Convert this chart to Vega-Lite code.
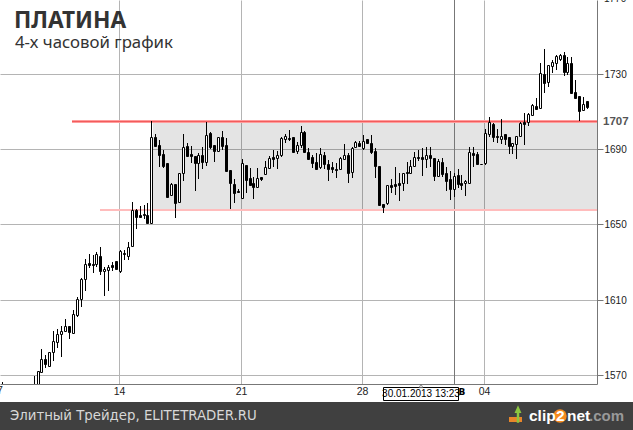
{"$schema":"https://vega.github.io/schema/vega-lite/v6.json","width":597,"height":384,"autosize":"none","padding":{"left":0,"top":0,"right":36,"bottom":46},"background":"white","view":{"stroke":null},
"datasets":{"candles":[
{"i":-30,"o":1563,"h":1566.1,"l":1560,"c":1562},{"i":-22,"o":1563,"h":1569.6,"l":1560,"c":1564},{"i":-21,"o":1560,"h":1572.3,"l":1558,"c":1572.3},{"i":-20,"o":1571.4,"h":1583.8,"l":1571.4,"c":1578.3},{"i":-19,"o":1578.3,"h":1580.6,"l":1573.5,"c":1575.8},{"i":-18,"o":1575,"h":1582.4,"l":1575,"c":1582.4},{"i":-17,"o":1582,"h":1593.4,"l":1577.4,"c":1587.9},{"i":-16,"o":1587.7,"h":1594.3,"l":1584.5,"c":1591.6},{"i":-15,"o":1591.6,"h":1596,"l":1579.7,"c":1593.6},{"i":-14,"o":1593.4,"h":1599.8,"l":1593.4,"c":1596.2},{"i":-13,"o":1596.2,"h":1596.2,"l":1589.3,"c":1593},{"i":-12,"o":1592.5,"h":1604.5,"l":1592.1,"c":1602.2},{"i":-11,"o":1602,"h":1611.3,"l":1601,"c":1610.2},{"i":-10,"o":1610.5,"h":1621.3,"l":1606.3,"c":1620.8},{"i":-9,"o":1620.8,"h":1631.4,"l":1614.8,"c":1628.8},{"i":-8,"o":1629.3,"h":1634.1,"l":1627,"c":1628.6},{"i":-7,"o":1628.8,"h":1633.7,"l":1624.4,"c":1628.3},{"i":-6,"o":1628.8,"h":1635.2,"l":1627.6,"c":1634.1},{"i":-5,"o":1633.2,"h":1637.8,"l":1623.3,"c":1625.4},{"i":-4,"o":1625.1,"h":1627.6,"l":1612.1,"c":1626.1},{"i":-3,"o":1625.6,"h":1628.3,"l":1614.8,"c":1627.2},{"i":-2,"o":1628.3,"h":1630.2,"l":1625.4,"c":1627.6},{"i":-1,"o":1630.6,"h":1630.6,"l":1626.5,"c":1626.5},{"i":0,"o":1625.4,"h":1636.4,"l":1624.4,"c":1635.9},{"i":1,"o":1634.6,"h":1636.4,"l":1631.3,"c":1634.1},{"i":2,"o":1633.4,"h":1640.5,"l":1631.3,"c":1638.2},{"i":3,"o":1638.4,"h":1661.7,"l":1638.4,"c":1657.5},{"i":4,"o":1657.5,"h":1658,"l":1647.7,"c":1654.1},{"i":5,"o":1655.2,"h":1659.8,"l":1653.8,"c":1654.1},{"i":6,"o":1655.5,"h":1660.3,"l":1652.7,"c":1654.8},{"i":7,"o":1655.2,"h":1661.5,"l":1650.9,"c":1650.9},{"i":8,"o":1650.6,"h":1704.9,"l":1650.6,"c":1696.3},{"i":9,"o":1696.6,"h":1698,"l":1691.8,"c":1691.8},{"i":10,"o":1692.2,"h":1694.8,"l":1680.3,"c":1686.9},{"i":11,"o":1687.4,"h":1689.5,"l":1680.1,"c":1681},{"i":12,"o":1682.4,"h":1682.4,"l":1664.4,"c":1664.7},{"i":13,"o":1665.6,"h":1672.2,"l":1665.1,"c":1671.5},{"i":14,"o":1671.5,"h":1671.5,"l":1653.2,"c":1661.2},{"i":15,"o":1661.9,"h":1677.1,"l":1661.5,"c":1677.1},{"i":16,"o":1677.1,"h":1698,"l":1672.9,"c":1690.9},{"i":17,"o":1691.6,"h":1693.1,"l":1686,"c":1686.5},{"i":18,"o":1687.2,"h":1691.6,"l":1682.4,"c":1686.5},{"i":19,"o":1686.3,"h":1686.3,"l":1667.7,"c":1682.8},{"i":20,"o":1682.8,"h":1688.1,"l":1673.9,"c":1686.7},{"i":21,"o":1686.9,"h":1690.9,"l":1679.4,"c":1683},{"i":22,"o":1683.3,"h":1704.6,"l":1681.2,"c":1697.3},{"i":23,"o":1698.4,"h":1699.3,"l":1689.9,"c":1691.3},{"i":24,"o":1692.2,"h":1692.2,"l":1683.3,"c":1689.2},{"i":25,"o":1689,"h":1696.6,"l":1688.6,"c":1696.6},{"i":26,"o":1696.6,"h":1699.8,"l":1689.5,"c":1691.8},{"i":27,"o":1692.4,"h":1695.7,"l":1678,"c":1678.4},{"i":28,"o":1678.9,"h":1678.9,"l":1658,"c":1671.8},{"i":29,"o":1671.5,"h":1673.9,"l":1661.5,"c":1666.9},{"i":30,"o":1667.7,"h":1668.6,"l":1666.9,"c":1667},{"i":31,"o":1663.9,"h":1684.6,"l":1663.9,"c":1682.8},{"i":32,"o":1681.6,"h":1681.6,"l":1666.9,"c":1673.6},{"i":33,"o":1674.5,"h":1679.8,"l":1670.8,"c":1671.1},{"i":34,"o":1671.8,"h":1675.4,"l":1663.7,"c":1670},{"i":35,"o":1669.7,"h":1679.8,"l":1669.7,"c":1674.5},{"i":36,"o":1675,"h":1675,"l":1673.2,"c":1674.1},{"i":37,"o":1676.6,"h":1683.9,"l":1676.6,"c":1680.3},{"i":38,"o":1679.8,"h":1686.3,"l":1679.3,"c":1685.4},{"i":39,"o":1685.6,"h":1689.5,"l":1680.7,"c":1684.9},{"i":40,"o":1685.4,"h":1689.2,"l":1679.3,"c":1686.9},{"i":41,"o":1686.7,"h":1696.3,"l":1686,"c":1695.7},{"i":42,"o":1695.5,"h":1697.8,"l":1693.1,"c":1697},{"i":43,"o":1695.7,"h":1700.1,"l":1694.5,"c":1695.2},{"i":44,"o":1696.3,"h":1696.3,"l":1688.1,"c":1688.6},{"i":45,"o":1689.2,"h":1694,"l":1687.4,"c":1692.2},{"i":46,"o":1692.2,"h":1702.3,"l":1690.4,"c":1698.9},{"i":47,"o":1699.1,"h":1699.8,"l":1688.1,"c":1688.6},{"i":48,"o":1688.6,"h":1690.4,"l":1684.2,"c":1684.6},{"i":49,"o":1686,"h":1686.9,"l":1679.8,"c":1682.4},{"i":50,"o":1683,"h":1687.7,"l":1679.4,"c":1679.4},{"i":51,"o":1680.7,"h":1690.4,"l":1679.3,"c":1687.2},{"i":52,"o":1686.7,"h":1688.6,"l":1679.4,"c":1681.9},{"i":53,"o":1682.1,"h":1684.2,"l":1673.2,"c":1679.6},{"i":54,"o":1680.3,"h":1683.3,"l":1677.5,"c":1679.6},{"i":55,"o":1679.4,"h":1682.4,"l":1674.5,"c":1679.1},{"i":56,"o":1679.4,"h":1686,"l":1679.3,"c":1685.1},{"i":57,"o":1684.9,"h":1692.7,"l":1684.9,"c":1686.7},{"i":58,"o":1686.7,"h":1687.7,"l":1672.2,"c":1677.5},{"i":59,"o":1677.7,"h":1690.9,"l":1674.5,"c":1690.4},{"i":60,"o":1691.3,"h":1694.5,"l":1690.4,"c":1693.6},{"i":61,"o":1693.4,"h":1694.5,"l":1691.6,"c":1691.8},{"i":62,"o":1690.4,"h":1697.5,"l":1689.5,"c":1694.5},{"i":63,"o":1695.2,"h":1695.2,"l":1693.1,"c":1693.4},{"i":64,"o":1693.1,"h":1697.5,"l":1687.4,"c":1688.6},{"i":65,"o":1689,"h":1690.4,"l":1674.5,"c":1681},{"i":66,"o":1681,"h":1681,"l":1659.8,"c":1660.3},{"i":67,"o":1660.7,"h":1660.7,"l":1656.2,"c":1659.4},{"i":68,"o":1661.5,"h":1670.9,"l":1660.3,"c":1670.9},{"i":69,"o":1670.9,"h":1673.9,"l":1666.9,"c":1670},{"i":70,"o":1671.5,"h":1680.7,"l":1665.6,"c":1670.4},{"i":71,"o":1671.8,"h":1677.1,"l":1662.6,"c":1671.1},{"i":72,"o":1671.8,"h":1677.1,"l":1667.7,"c":1677.1},{"i":73,"o":1677.8,"h":1683.3,"l":1671.5,"c":1677.1},{"i":74,"o":1677.1,"h":1684.2,"l":1676.8,"c":1681},{"i":75,"o":1681,"h":1688.6,"l":1680.7,"c":1685.6},{"i":76,"o":1685.6,"h":1689.5,"l":1683.9,"c":1685.1},{"i":77,"o":1685.6,"h":1690.4,"l":1675.7,"c":1684.9},{"i":78,"o":1684.6,"h":1690.9,"l":1679.8,"c":1686.9},{"i":79,"o":1686.7,"h":1690.9,"l":1680.3,"c":1685.4},{"i":80,"o":1685.1,"h":1685.1,"l":1673.1,"c":1675.7},{"i":81,"o":1675.7,"h":1684.6,"l":1675.4,"c":1683.9},{"i":82,"o":1683.3,"h":1685.1,"l":1675.4,"c":1676.8},{"i":83,"o":1677.1,"h":1680.3,"l":1667.9,"c":1673.2},{"i":84,"o":1674.1,"h":1678.4,"l":1663,"c":1669},{"i":85,"o":1669,"h":1677.5,"l":1664.7,"c":1675.5},{"i":86,"o":1676.4,"h":1679.3,"l":1669.2,"c":1671.5},{"i":87,"o":1671.8,"h":1676.1,"l":1668.3,"c":1671.1},{"i":88,"o":1671.8,"h":1673.6,"l":1665.3,"c":1672.9},{"i":89,"o":1672.2,"h":1691.3,"l":1671.8,"c":1688.3},{"i":90,"o":1687.7,"h":1691.3,"l":1680.3,"c":1686.7},{"i":91,"o":1687.2,"h":1688.3,"l":1681.6,"c":1681.9},{"i":92,"o":1682.3,"h":1682.3,"l":1681.9,"c":1681.9},{"i":93,"o":1682.4,"h":1700.5,"l":1681.6,"c":1698.4},{"i":94,"o":1698,"h":1706.9,"l":1696.6,"c":1704.2},{"i":95,"o":1703.2,"h":1703.7,"l":1693.9,"c":1696.6},{"i":96,"o":1697,"h":1700.5,"l":1693.1,"c":1696.2},{"i":97,"o":1695.5,"h":1705.8,"l":1692.7,"c":1697.1},{"i":98,"o":1697.8,"h":1697.8,"l":1692.2,"c":1695.5},{"i":99,"o":1696.2,"h":1696.2,"l":1687.4,"c":1691.8},{"i":100,"o":1691.8,"h":1693.1,"l":1687.4,"c":1693.1},{"i":101,"o":1692.7,"h":1697,"l":1684.6,"c":1697},{"i":102,"o":1697.1,"h":1704.6,"l":1697,"c":1703.7},{"i":103,"o":1704.2,"h":1709,"l":1692.2,"c":1703.5},{"i":104,"o":1704.6,"h":1709,"l":1702.3,"c":1708.5},{"i":105,"o":1708.3,"h":1714,"l":1707.9,"c":1713.2},{"i":106,"o":1712.7,"h":1717,"l":1711.5,"c":1711.5},{"i":107,"o":1711.7,"h":1735.9,"l":1711.3,"c":1730.2},{"i":108,"o":1729.9,"h":1743,"l":1720,"c":1724.9},{"i":109,"o":1725.8,"h":1734.5,"l":1722.8,"c":1734.5},{"i":110,"o":1734.1,"h":1737.3,"l":1730.2,"c":1736.3},{"i":111,"o":1735.9,"h":1739.8,"l":1732,"c":1739.5},{"i":112,"o":1738,"h":1740.5,"l":1737,"c":1739.8},{"i":113,"o":1740,"h":1741.8,"l":1728.8,"c":1731.1},{"i":114,"o":1730.8,"h":1739.1,"l":1729.4,"c":1735.6},{"i":115,"o":1735.6,"h":1738.7,"l":1719.6,"c":1719.6},{"i":116,"o":1720.2,"h":1726.7,"l":1716.4,"c":1717.1},{"i":117,"o":1718.2,"h":1718.2,"l":1705.1,"c":1710.4},{"i":118,"o":1710.8,"h":1717.9,"l":1710.4,"c":1713.8},{"i":119,"o":1715.5,"h":1715.5,"l":1711.1,"c":1712.2}
]},
"layer":[
{"data":{"values":[{"a":8.3,"b":121.53,"top":1704.7,"bottom":1657.6}]},"mark":{"type":"rect","fill":"#000","opacity":0.105},
"encoding":{
"x":{"field":"a","type":"quantitative","title":null,"scale":{"domain":[-30.573,121.53],"padding":0,"nice":false,"zero":false,"round":true},"axis":{"orient":"bottom","values":[-0.25,30.75,61.75,92.75],"labelExpr":"datum.value<1?'14':datum.value<31?'21':datum.value<62?'28':'04'","grid":true,"gridColor":"#b4b4b4","ticks":false,"domainColor":"#777","labelFont":"Liberation Sans","labelFontSize":10.5,"labelColor":"#222","labelPadding":2,"labelBound":false,"labelFlush":false,"labelOverlap":false,"title":null}},
"x2":{"field":"b"},
"y":{"field":"top","type":"quantitative","title":null,"scale":{"domain":[1565.2,1769.2],"nice":false,"zero":false,"round":true},"axis":{"orient":"right","values":[1570,1610,1650,1690,1730],"format":"d","grid":true,"gridColor":"#b4b4b4","tickColor":"#777","tickSize":6,"domainColor":"#777","labelFont":"Liberation Sans","labelFontSize":10,"labelColor":"#222","labelPadding":1,"labelBound":false,"labelFlush":false,"labelOverlap":false,"title":null}},
"y2":{"field":"bottom"}}},
{"data":{"values":[{"i":85.1,"a":1565.2,"b":1769.2}]},"mark":{"type":"rule","color":"#777","strokeWidth":1,"xOffset":0.5},"encoding":{"x":{"field":"i","type":"quantitative"},"y":{"field":"a","type":"quantitative"},"y2":{"field":"b"}}},
{"data":{"values":[{"a":-12.2,"b":121.53,"p":1704.7}]},"mark":{"type":"rule","color":"#ff9c9c","strokeWidth":3,"yOffset":0.5},"encoding":{"x":{"field":"a","type":"quantitative"},"x2":{"field":"b"},"y":{"field":"p","type":"quantitative"}}},
{"data":{"values":[{"a":-12.2,"b":121.53,"p":1704.7}]},"mark":{"type":"rule","color":"#f25c5c","strokeWidth":1,"yOffset":0.5},"encoding":{"x":{"field":"a","type":"quantitative"},"x2":{"field":"b"},"y":{"field":"p","type":"quantitative"}}},
{"data":{"values":[{"a":-5.1,"b":121.53,"p":1657.6}]},"mark":{"type":"rule","color":"#ffbcbc","strokeWidth":2},"encoding":{"x":{"field":"a","type":"quantitative"},"x2":{"field":"b"},"y":{"field":"p","type":"quantitative"}}},
{"data":{"name":"candles"},"mark":{"type":"rule","color":"#000","strokeWidth":1,"clip":true,"xOffset":0.5},"encoding":{"x":{"field":"i","type":"quantitative"},"y":{"field":"l","type":"quantitative"},"y2":{"field":"h"}}},
{"data":{"name":"candles"},"mark":{"type":"bar","orient":"vertical","size":2,"stroke":"#000","strokeWidth":1,"clip":true,"xOffset":0.5,"yOffset":0.5,"y2Offset":0.5},"encoding":{"x":{"field":"i","type":"quantitative"},"y":{"field":"o","type":"quantitative"},"y2":{"field":"c"},"fill":{"condition":{"test":"datum.c>=datum.o","value":"#ffffff"},"value":"#000000"}}},
{"data":{"values":[{"a":-30.573,"b":130.7,"t":1555.7,"u":1540.8}]},"mark":{"type":"rect","fill":"#404040"},"encoding":{"x":{"field":"a","type":"quantitative"},"x2":{"field":"b"},"y":{"field":"t","type":"quantitative"},"y2":{"field":"u"}}},
{"data":{"values":[{"i":87.2,"p":1561,"s":"В"}]},"mark":{"type":"text","font":"DejaVu Sans","fontSize":9,"fontWeight":"bold","color":"#000","align":"center","baseline":"middle"},"encoding":{"x":{"field":"i","type":"quantitative"},"y":{"field":"p","type":"quantitative"},"text":{"field":"s"}}},
{"data":{"values":[{"a":67,"b":86.1,"t":1563.6,"u":1556.7}]},"mark":{"type":"rect","fill":"#fff","stroke":"#000","strokeWidth":1,"xOffset":0.5,"x2Offset":0.5,"yOffset":0.5,"y2Offset":0.5},"encoding":{"x":{"field":"a","type":"quantitative"},"x2":{"field":"b"},"y":{"field":"t","type":"quantitative"},"y2":{"field":"u"}}},
{"data":{"values":[{"i":76.7,"p":1564.2}]},"mark":{"type":"point","shape":"triangle-up","size":14,"filled":true,"fill":"#fff","stroke":"#555","strokeWidth":0.7,"opacity":1},"encoding":{"x":{"field":"i","type":"quantitative"},"y":{"field":"p","type":"quantitative"}}},
{"data":{"values":[{"i":76.6,"p":1559.9,"s":"30.01.2013 13:23"}]},"mark":{"type":"text","font":"Liberation Sans","fontSize":10,"color":"#000","align":"center","baseline":"middle"},"encoding":{"x":{"field":"i","type":"quantitative"},"y":{"field":"p","type":"quantitative"},"text":{"field":"s"}}},
{"data":{"values":[{"i":-31.25,"p":1561.5,"s":"07"}]},"mark":{"type":"text","font":"Liberation Sans","fontSize":10.5,"color":"#222","align":"center","baseline":"middle"},"encoding":{"x":{"field":"i","type":"quantitative"},"y":{"field":"p","type":"quantitative"},"text":{"field":"s"}}},
{"data":{"values":[{"i":123.3,"p":1769.9,"s":"1770"}]},"mark":{"type":"text","font":"Liberation Sans","fontSize":10,"color":"#222","align":"left","baseline":"middle"},"encoding":{"x":{"field":"i","type":"quantitative"},"y":{"field":"p","type":"quantitative"},"text":{"field":"s"}}},
{"data":{"values":[{"i":123.06,"p":1704.4,"s":"1707"}]},"mark":{"type":"text","font":"Liberation Sans","fontSize":11.5,"fontWeight":"bold","color":"#555","align":"left","baseline":"middle"},"encoding":{"x":{"field":"i","type":"quantitative"},"y":{"field":"p","type":"quantitative"},"text":{"field":"s"}}},
{"data":{"values":[{"i":-27,"p":1758,"s":"ПЛАТИНА"}]},"mark":{"type":"text","font":"Noto Sans","fontSize":22.7,"fontWeight":"bold","color":"#333","align":"left","baseline":"middle"},"encoding":{"x":{"field":"i","type":"quantitative"},"y":{"field":"p","type":"quantitative"},"text":{"field":"s"}}},
{"data":{"values":[{"i":-26.75,"p":1746.4,"s":"4-х часовой график"}]},"mark":{"type":"text","font":"Noto Sans","fontSize":16.8,"color":"#333","align":"left","baseline":"middle"},"encoding":{"x":{"field":"i","type":"quantitative"},"y":{"field":"p","type":"quantitative"},"text":{"field":"s"}}},
{"data":{"values":[{"i":-28,"p":1548.2,"s":"Элитный Трейдер, ELITETRADER.RU"}]},"mark":{"type":"text","font":"DejaVu Sans","fontSize":13.3,"color":"#d8d8d8","align":"left","baseline":"middle"},"encoding":{"x":{"field":"i","type":"quantitative"},"y":{"field":"p","type":"quantitative"},"text":{"field":"s"}}},
{"data":{"values":[{"a":99.1,"b":102.4,"t":1547.7,"u":1545}]},"mark":{"type":"rect","fill":"#e8862a"},"encoding":{"x":{"field":"a","type":"quantitative"},"x2":{"field":"b"},"y":{"field":"t","type":"quantitative"},"y2":{"field":"u"}}},
{"data":{"values":[{"i":101.4,"p":1549.3}]},"mark":{"type":"point","shape":"arrow","size":300,"filled":true,"fill":"#8cc63f","opacity":1},"encoding":{"x":{"field":"i","type":"quantitative"},"y":{"field":"p","type":"quantitative"}}},
{"data":{"values":[{"i":112.1,"p":1548.2}]},"mark":{"type":"point","shape":"circle","size":180,"filled":true,"fill":"#f58a1f","opacity":1},"encoding":{"x":{"field":"i","type":"quantitative"},"y":{"field":"p","type":"quantitative"}}},
{"data":{"values":[{"i":104.2,"p":1545.6,"s":"clip"},{"i":111.1,"p":1545.6,"s":"2"},{"i":113.9,"p":1545.6,"s":"net"}]},"mark":{"type":"text","font":"Liberation Sans","fontSize":15.5,"fontWeight":"bold","color":"#fff","align":"left","baseline":"alphabetic"},"encoding":{"x":{"field":"i","type":"quantitative"},"y":{"field":"p","type":"quantitative"},"text":{"field":"s"}}},
{"data":{"values":[{"i":119.5,"p":1545.6,"s":".com"}]},"mark":{"type":"text","font":"Liberation Sans","fontSize":15,"fontWeight":"bold","color":"#999","align":"left","baseline":"alphabetic"},"encoding":{"x":{"field":"i","type":"quantitative"},"y":{"field":"p","type":"quantitative"},"text":{"field":"s"}}}
]}
